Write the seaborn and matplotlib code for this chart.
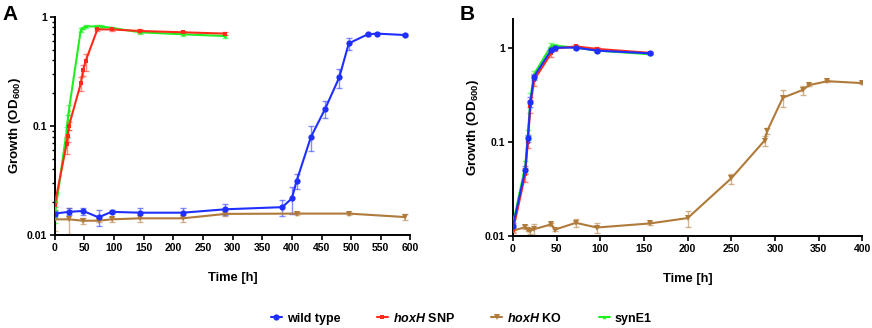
import numpy as np
import pandas as pd
from matplotlib import pyplot as plt
from matplotlib.lines import Line2D
from matplotlib.ticker import LogLocator, FixedLocator, NullFormatter, NullLocator
import seaborn as sns

# ---- panel A data (time in h, OD600 mean and SD) ----
tA_wt = [0, 24, 48, 74, 96, 144, 216, 288, 384, 400, 408, 432, 456, 480, 496, 528, 544, 590]
odA_wt = [0.0158, 0.0164, 0.0167, 0.0146, 0.0164, 0.0161, 0.0161, 0.0173, 0.0181, 0.0218, 0.0314,
          0.079, 0.143, 0.279, 0.57, 0.69, 0.70, 0.68]
sdA_wt = [0.001, 0.0012, 0.0012, 0.0025, 0.0005, 0.0018, 0.0015, 0.002, 0.003, 0.006, 0.005,
          0.02, 0.025, 0.055, 0.07, 0.02, 0.01, 0.01]

tA_snp = [0, 20, 22, 24, 44, 48, 52, 72, 96, 144, 216, 288]
odA_snp = [0.019, 0.068, 0.081, 0.10, 0.245, 0.325, 0.39, 0.765, 0.765, 0.74, 0.72, 0.70]
sdA_snp = [0.001, 0.012, 0.01, 0.008, 0.035, 0.04, 0.07, 0.02, 0.02, 0.03, 0.02, 0.02]

tA_ko = [0, 24, 48, 74, 96, 144, 216, 288, 408, 496, 590]
odA_ko = [0.014, 0.014, 0.0136, 0.0136, 0.0140, 0.0143, 0.0143, 0.0157, 0.0158, 0.0158, 0.0147]
sdA_ko = [0.003, 0.0038, 0.0008, 0.0005, 0.0008, 0.0012, 0.001, 0.0008, 0.0004, 0.0003, 0.0009]

tA_syn = [0, 20, 22, 24, 44, 48, 52, 72, 78, 96, 144, 216, 288]
odA_syn = [0.015, 0.088, 0.115, 0.14, 0.755, 0.79, 0.815, 0.815, 0.815, 0.79, 0.72, 0.69, 0.665]
sdA_syn = [0.002, 0.01, 0.012, 0.015, 0.03, 0.02, 0.02, 0.02, 0.02, 0.02, 0.02, 0.02, 0.02]

# ---- panel B data ----
tB = [0, 14, 17, 20, 24, 44, 48, 72, 96, 157]
odB_wt = [0.0128, 0.050, 0.109, 0.267, 0.49, 0.95, 1.0, 1.0, 0.93, 0.87]
sdB_wt = [0.001, 0.005, 0.01, 0.03, 0.04, 0.06, 0.04, 0.04, 0.03, 0.02]
odB_snp = [0.0115, 0.045, 0.10, 0.24, 0.45, 0.88, 0.98, 1.03, 0.97, 0.88]
sdB_snp = [0.0008, 0.008, 0.015, 0.04, 0.06, 0.09, 0.05, 0.04, 0.04, 0.02]
odB_syn = [0.0135, 0.055, 0.12, 0.29, 0.52, 1.06, 1.05, 1.0, 0.93, 0.85]
sdB_syn = [0.0015, 0.008, 0.015, 0.04, 0.05, 0.05, 0.04, 0.03, 0.03, 0.02]

tB_ko = [0, 14, 17, 20, 24, 44, 48, 72, 96, 157, 200, 250, 288, 291, 309, 332, 339, 360, 400]
odB_ko = [0.0114, 0.0124, 0.0116, 0.0114, 0.0118, 0.0133, 0.0117, 0.0138, 0.0123, 0.0136,
          0.0155, 0.041, 0.103, 0.13, 0.294, 0.356, 0.40, 0.44, 0.42]
sdB_ko = [0.0003, 0.0006, 0.0004, 0.0008, 0.0015, 0.0006, 0.0003, 0.0012, 0.0015, 0.0005,
          0.003, 0.005, 0.012, 0.01, 0.06, 0.04, 0.01, 0.01, 0.01]

strains = ['wild type', 'hoxH SNP', 'hoxH KO', 'synE1']
colors = {'wild type': '#1f2fff', 'hoxH SNP': '#ff2a1a', 'hoxH KO': '#b07a3a', 'synE1': '#22ee22'}
markers = {'wild type': 'o', 'hoxH SNP': 's', 'hoxH KO': 'v', 'synE1': '^'}
msize = {'wild type': 4.5, 'hoxH SNP': 2.5, 'hoxH KO': 4, 'synE1': 2.5}


def frame(rows):
    parts = []
    for strain, t, od, sd in rows:
        parts.append(pd.DataFrame({'strain': strain, 'time': t, 'od': od, 'sd': sd}))
    return pd.concat(parts, ignore_index=True)


dfA = frame([('hoxH KO', tA_ko, odA_ko, sdA_ko),
             ('synE1', tA_syn, odA_syn, sdA_syn),
             ('hoxH SNP', tA_snp, odA_snp, sdA_snp),
             ('wild type', tA_wt, odA_wt, sdA_wt)])
dfB = frame([('hoxH KO', tB_ko, odB_ko, sdB_ko),
             ('synE1', tB, odB_syn, sdB_syn),
             ('hoxH SNP', tB, odB_snp, sdB_snp),
             ('wild type', tB, odB_wt, sdB_wt)])

sns.set_style('ticks', {'axes.edgecolor': 'black', 'text.color': 'black',
                        'axes.labelcolor': 'black', 'xtick.color': 'black',
                        'ytick.color': 'black'})
plt.rcParams['font.family'] = ['Liberation Sans', 'DejaVu Sans']
plt.rcParams['mathtext.fontset'] = 'custom'
plt.rcParams['mathtext.rm'] = 'Liberation Sans'
plt.rcParams['mathtext.it'] = 'Liberation Sans:italic'
plt.rcParams['mathtext.bf'] = 'Liberation Sans:bold'
plt.rcParams['mathtext.bfit'] = 'Liberation Sans:italic:bold'

fig = plt.figure(figsize=(8.72, 3.28), dpi=100)
axA = fig.add_axes([0.0627, 0.2826, 0.408, 0.6665])
axB = fig.add_axes([0.5883, 0.2805, 0.4006, 0.6607])


def draw(ax, df, xmax, xstep, ytop, minor):
    for s in ['hoxH KO', 'synE1', 'hoxH SNP', 'wild type']:
        d = df[df.strain == s]
        ax.errorbar(d.time, d.od, yerr=d.sd, fmt='none', ecolor=colors[s], alpha=0.55,
                    elinewidth=1.0, capsize=2.5, capthick=1.0, zorder=2)
    for s in ['hoxH KO', 'synE1', 'hoxH SNP', 'wild type']:
        d = df[df.strain == s]
        sns.lineplot(data=d, x='time', y='od', color=colors[s], marker=markers[s],
                     markersize=msize[s], markeredgewidth=0, linewidth=1.5, ax=ax,
                     estimator=None, legend=False, zorder=3)
    ax.set_yscale('log')
    ax.set_ylim(0.01, ytop)
    ax.set_xlim(0, xmax)
    ax.xaxis.set_major_locator(FixedLocator(np.arange(0, xmax + 1, xstep)))
    ax.yaxis.set_major_locator(FixedLocator([0.01, 0.1, 1]))
    ax.set_yticklabels(['0.01', '0.1', '1'])
    if minor:
        ax.yaxis.set_minor_locator(LogLocator(base=10, subs=np.arange(2, 10)))
    else:
        ax.yaxis.set_minor_locator(NullLocator())
    ax.yaxis.set_minor_formatter(NullFormatter())
    ax.tick_params(axis='both', which='major', labelsize=7.5, width=1.2, length=3.5, pad=2,
                   color='black', labelcolor='black')
    ax.tick_params(axis='y', which='minor', width=1.0, length=2.5, color='black')
    for lab in ax.get_xticklabels() + ax.get_yticklabels():
        lab.set_fontweight('bold')
    for sp in ['left', 'bottom']:
        ax.spines[sp].set_linewidth(1.4)
        ax.spines[sp].set_color('black')
    sns.despine(ax=ax)
    ax.set_xlabel('Time [h]', fontsize=9.3, fontweight='bold', labelpad=14, color='black')
    ax.set_ylabel(r'Growth (OD$_{\mathbf{600}}$)', fontsize=9.6, fontweight='bold', labelpad=3,
                  color='black')


draw(axA, dfA, 600, 50, 1, True)
draw(axB, dfB, 400, 50, 2, False)

fig.text(0.003, 0.985, 'A', fontsize=15, fontweight='bold', va='top', color='black')
fig.text(0.527, 0.985, 'B', fontsize=15, fontweight='bold', va='top', color='black')

handles = []
labels = []
for s in strains:
    handles.append(Line2D([], [], color=colors[s], marker=markers[s], markersize=msize[s],
                          markeredgewidth=0, linewidth=1.5))
    labels.append({'wild type': 'wild type',
                   'hoxH SNP': r'$\mathbfit{hoxH}$ SNP',
                   'hoxH KO': r'$\mathbfit{hoxH}$ KO',
                   'synE1': 'synE1'}[s])
leg = fig.legend(handles, labels, loc='center', bbox_to_anchor=(0.529, 0.03), ncol=4,
                 frameon=False, handlelength=0.9, handletextpad=0.4, columnspacing=2.9,
                 prop={'weight': 'bold', 'size': 9})
for txt in leg.get_texts():
    txt.set_color('black')

fig.savefig('out.png', dpi=100)
